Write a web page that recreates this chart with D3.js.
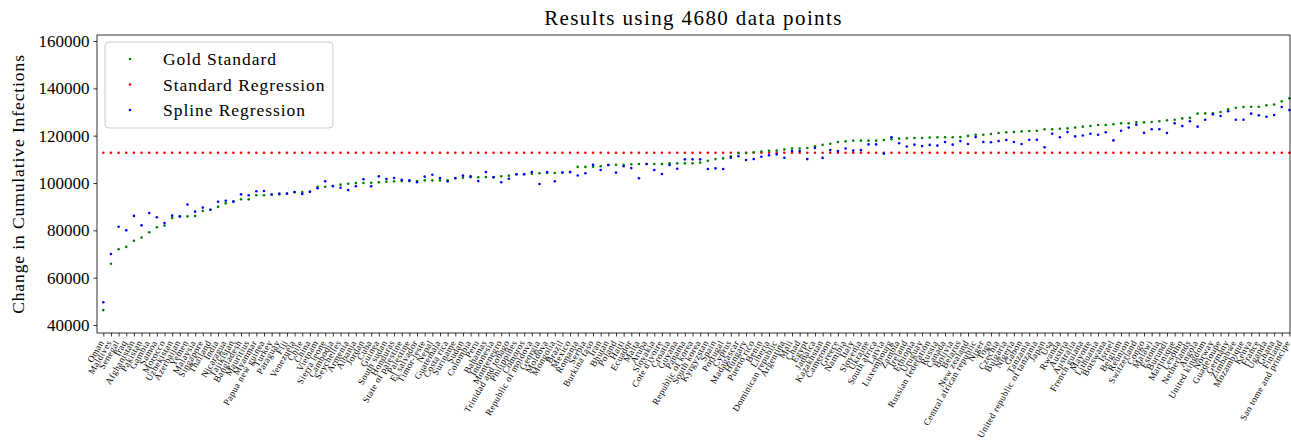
<!DOCTYPE html>
<html><head><meta charset="utf-8">
<script src="https://cdn.jsdelivr.net/npm/d3@7"></script>
<style>
html,body{margin:0;padding:0;background:#fff;overflow:hidden}
text{font-family:"Liberation Serif","Times New Roman",serif;fill:#000}
</style></head>
<body><svg id="c" width="1291" height="443"></svg>
<script>
const categories = ["Oman","Maldives","Senegal","Iraq","Afghanistan","Pakistan","Gambia","Samoa","Morocco","Uzbekistan",
"Azerbaijan","Yemen","Malaysia","Singapore","Thailand","India","Nicaragua","Tajikistan","Bangladesh","Mauritius",
"Myanmar","Papua new guinea","Turkey","Paraguay","Fiji","Venezuela","Chile","China","Vietnam","Sierra leone",
"Cambodia","Seychelles","Armenia","Albania","Jordan","Cuba","Guinea","South sudan","Honduras","State of palestine",
"Palestine","El salvador","Timor-leste","Nepal","Guatemala","Costa rica","Suriname","Sudan","Colombia","Peru",
"Bahamas","Indonesia","Montenegro","Trinidad and tobago","Philippines","Comoros","Republic of moldova","Georgia","Moldova","Mongolia",
"Brazil","Mexico","Romania","Serbia","Burkina faso","Iran","Bhutan","Poland","Haiti","Ecuador",
"Malta","Aruba","Slovakia","Cote d'ivoire","Croatia","Guyana","Panama","Republic of korea","South korea","Kyrgyzstan",
"Spain","Portugal","Cyprus","Madagascar","Hungary","Puerto rico","Benin","Liberia","Dominican republic","Argentina",
"Mali","Chad","Egypt","Jamaica","Kazakhstan","Cameroon","Greece","Namibia","Italy","Slovenia",
"Ukraine","South africa","Latvia","Luxembourg","Zambia","Ireland","Ethiopia","Uruguay","Russian federation","Russia",
"Canada","Bolivia","Belarus","New zealand","Central african republic","Niger","Togo","Czechia","Bulgaria","Nigeria",
"Gabon","Tanzania","United republic of tanzania","Japan","Usa","Rwanda","Austria","Australia","French guiana","Mayotte",
"Lithuania","Botswana","Israel","Belgium","Reunion","Switzerland","Congo","Malawi","Estonia","Burundi",
"Martinique","Lesotho","Netherlands","Angola","United kingdom","Norway","Guadeloupe","Germany","Zimbabwe","Mozambique",
"Kenya","France","Uganda","Ghana","Finland","Sao tome and principe"];

const goldStandard = [46.3,65.9,72.0,73.0,75.6,77.0,79.2,81.3,82.0,85.2,
85.9,85.9,86.1,88.2,88.7,89.9,91.4,92.3,93.1,93.1,
94.8,94.8,95.1,95.2,95.5,96.1,96.2,96.3,98.4,98.4,
98.7,99.3,99.7,100.0,100.0,100.1,100.3,100.5,100.7,100.8,
100.8,100.8,101.1,101.1,101.1,101.1,102.1,102.2,102.4,102.4,
102.5,102.5,102.8,103.1,103.7,103.7,103.9,104.1,104.2,104.2,
104.4,104.6,106.8,106.8,106.9,107.1,107.6,107.7,107.7,107.9,
108.0,108.0,108.0,108.0,108.3,108.3,108.3,108.3,108.6,109.4,
110.1,110.4,111.3,112.6,112.7,113.0,113.3,113.6,113.7,114.2,
114.6,114.6,114.8,115.5,116.1,116.6,117.3,117.6,117.9,117.9,
117.9,117.9,118.2,118.5,118.8,118.9,119.0,119.0,119.2,119.3,
119.3,119.3,119.4,119.9,120.4,120.4,120.7,121.1,121.4,121.5,
121.8,122.0,122.1,122.7,122.7,122.9,123.1,123.4,123.8,124.1,
124.5,124.5,124.8,125.2,125.2,125.6,125.6,125.8,126.1,126.5,
126.7,127.3,127.5,129.3,129.4,129.4,130.0,131.1,131.8,132.1,
132.2,132.2,132.8,133.2,134.5,135.8];

const splineRegression = [49.6,70.0,81.5,80.0,86.1,82.1,87.3,85.5,83.1,86.2,
85.8,90.9,87.9,89.6,88.7,92.1,92.5,92.1,95.2,94.8,
96.5,96.6,95.1,95.5,95.5,96.2,95.4,96.3,97.8,100.7,
98.7,98.0,97.0,98.6,101.6,98.6,102.8,101.7,102.1,101.3,
101.1,100.3,102.7,103.5,102.1,100.7,102.0,103.1,102.8,100.8,
104.6,102.4,100.3,101.8,103.7,103.7,104.6,99.6,104.6,100.7,
104.4,104.6,103.2,104.1,107.7,105.5,107.6,104.4,107.1,106.3,
102.0,108.0,105.5,103.8,107.6,106.0,110.0,110.0,110.0,105.9,
106.2,105.9,110.7,111.3,109.7,110.1,111.1,111.7,112.1,110.7,
113.5,113.5,110.1,114.8,110.6,113.9,113.5,114.6,113.7,113.9,
116.3,116.3,112.4,119.3,116.8,115.4,116.2,115.6,116.1,115.8,
117.3,116.2,117.7,116.5,119.4,117.3,117.2,117.7,118.2,117.3,
116.5,118.3,118.3,115.1,120.8,119.3,121.5,119.7,120.1,120.8,
120.4,121.4,118.0,122.1,123.4,124.6,121.2,122.7,122.7,121.1,
125.2,124.1,126.1,123.8,126.7,129.0,128.3,130.3,126.7,126.7,
129.3,128.6,128.0,128.7,132.1,130.8];

const standardRegression = 112.8; // constant prediction (thousands)
const yTicks = [40000,60000,80000,100000,120000,140000,160000];
const seriesNames = ["Gold Standard","Standard Regression","Spline Regression"];
const seriesColors = ["#008000","#ff0000","#0000ff"];

const svg = d3.select("#c");
const L=97, R=1290, T=35, B=333;

const x = d3.scalePoint().domain(categories).range([103.3, 1289.4]);
const y = d3.scaleLinear().domain([40000,160000]).range([325, 41]);

const rr = 1.3;
svg.append("g").selectAll("circle").data(categories).join("circle")
  .attr("cx", d=>x(d)).attr("cy", y(standardRegression*1000)).attr("r", rr).attr("fill", seriesColors[1]);
svg.append("g").selectAll("circle").data(categories).join("circle")
  .attr("cx", d=>x(d)).attr("cy", (d,i)=>y(goldStandard[i]*1000)).attr("r", rr).attr("fill", seriesColors[0]);
svg.append("g").selectAll("circle").data(categories).join("circle")
  .attr("cx", d=>x(d)).attr("cy", (d,i)=>y(splineRegression[i]*1000)).attr("r", rr).attr("fill", seriesColors[2]);

svg.append("rect").attr("x",L).attr("y",T).attr("width",R-L).attr("height",B-T)
  .attr("fill","none").attr("stroke","#000").attr("stroke-width",0.8);

const ya = svg.append("g").attr("transform",`translate(${L},0)`)
  .call(d3.axisLeft(y).tickValues(yTicks).tickFormat(d3.format("d")).tickSize(3.5).tickPadding(4));
ya.select(".domain").remove();
ya.selectAll("text").style("font-size","17px").attr("font-family",null);
ya.selectAll("line").attr("stroke-width",0.8);

const xa = svg.append("g").attr("transform",`translate(0,${B})`)
  .call(d3.axisBottom(x).tickSize(3.5).tickPadding(0));
xa.select(".domain").remove();
xa.selectAll("line").attr("stroke-width",0.8);
xa.selectAll("text").attr("y",null).attr("dy",null).attr("font-family",null)
  .style("font-size","9.2px").style("letter-spacing","0.4px").attr("text-anchor","end")
  .attr("transform","translate(0.5,9.5) rotate(-60)");

svg.append("text").attr("x",(L+R)/2).attr("y",25).attr("text-anchor","middle")
  .style("font-size","21px").style("letter-spacing","1.4px").text("Results using 4680 data points");
svg.append("text").attr("transform",`translate(24,${(T+B)/2}) rotate(-90)`).attr("text-anchor","middle")
  .style("font-size","17.5px").style("letter-spacing","0.9px").text("Change in Cumulative Infections");

const lg = svg.append("g");
lg.append("rect").attr("x",105).attr("y",42).attr("width",228).attr("height",86).attr("rx",4)
  .attr("fill","#fff").attr("fill-opacity",0.8).attr("stroke","#cccccc").attr("stroke-width",1);
[59,84.5,110].forEach((yy,i)=>{
  lg.append("circle").attr("cx",130).attr("cy",yy).attr("r",rr).attr("fill",seriesColors[i]);
  lg.append("text").attr("x",163).attr("y",yy).attr("dy","0.35em").style("font-size","17.5px")
    .style("letter-spacing","0.95px").text(seriesNames[i]);
});
</script></body></html>
